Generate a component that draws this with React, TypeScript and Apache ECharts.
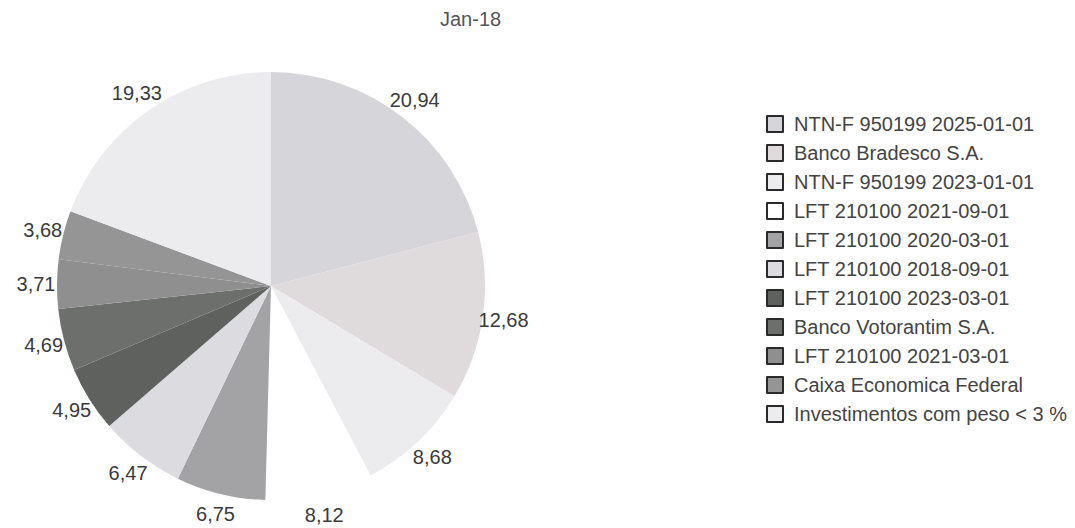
import React, { useEffect, useRef } from "react";
import * as echarts from "echarts";

const titleText = "Jan-18";
const categories = [
  "NTN-F 950199 2025-01-01",
  "Banco Bradesco S.A.",
  "NTN-F 950199 2023-01-01",
  "LFT 210100 2021-09-01",
  "LFT 210100 2020-03-01",
  "LFT 210100 2018-09-01",
  "LFT 210100 2023-03-01",
  "Banco Votorantim S.A.",
  "LFT 210100 2021-03-01",
  "Caixa Economica Federal",
  "Investimentos com peso < 3 %",
];
const values = [20.94, 12.68, 8.68, 8.12, 6.75, 6.47, 4.95, 4.69, 3.71, 3.68, 19.33];
const sliceColors = [
  "#d6d5d9",
  "#dfdadc",
  "#ecebee",
  "#ffffff",
  "#a3a2a4",
  "#dcdbe0",
  "#5e615e",
  "#6d6f6d",
  "#8f8f8f",
  "#959595",
  "#ecebee",
];

const FONT = "'Liberation Sans', Arial, sans-serif";

export default function App() {
  const ref = useRef<HTMLDivElement>(null);
  useEffect(() => {
    document.body.style.margin = "0";
    if (!ref.current) return;
    const chart = echarts.init(ref.current, undefined, { renderer: "svg" });
    const data = categories.map((name, i) => ({
      name,
      value: values[i],
      itemStyle: { color: sliceColors[i] },
    }));
    const labelData = categories.map((name, i) => ({ name, value: values[i] }));
    chart.setOption({
      animation: false,
      backgroundColor: "#ffffff",
      title: {
        text: titleText,
        left: 440,
        top: 9,
        padding: 0,
        textStyle: { fontFamily: FONT, fontSize: 20, fontWeight: "normal", color: "#555" },
      },
      legend: {
        orient: "vertical",
        left: 766,
        top: 114,
        padding: 0,
        icon: "rect",
        itemWidth: 16,
        itemHeight: 16,
        itemGap: 9,
        data: categories,
        itemStyle: { borderColor: "#2a2a2a", borderWidth: 2 },
        textStyle: {
          fontFamily: FONT,
          fontSize: 20,
          lineHeight: 20,
          color: "#444",
          padding: [0, 0, 0, 6],
        },
      },
      series: [
        {
          type: "pie",
          center: [271, 286],
          radius: [0, 214],
          startAngle: 90,
          clockwise: true,
          label: { show: false },
          labelLine: { show: false },
          emphasis: { disabled: true },
          itemStyle: { borderWidth: 0 },
          data,
        },
        {
          type: "pie",
          center: [271, 286],
          radius: [220, 244],
          startAngle: 90,
          clockwise: true,
          silent: true,
          emphasis: { disabled: true },
          itemStyle: { color: "rgba(0,0,0,0)", borderWidth: 0 },
          label: {
            show: true,
            position: "inside",
            rotate: 0,
            fontFamily: FONT,
            fontSize: 20,
            lineHeight: 20,
            color: "#3a3a3a",
            formatter: (p: any) => p.value.toFixed(2).replace(".", ","),
          },
          labelLine: { show: false },
          data: labelData,
        },
      ],
    });
    return () => chart.dispose();
  }, []);
  return <div ref={ref} style={{ width: 1075, height: 528 }} />;
}
